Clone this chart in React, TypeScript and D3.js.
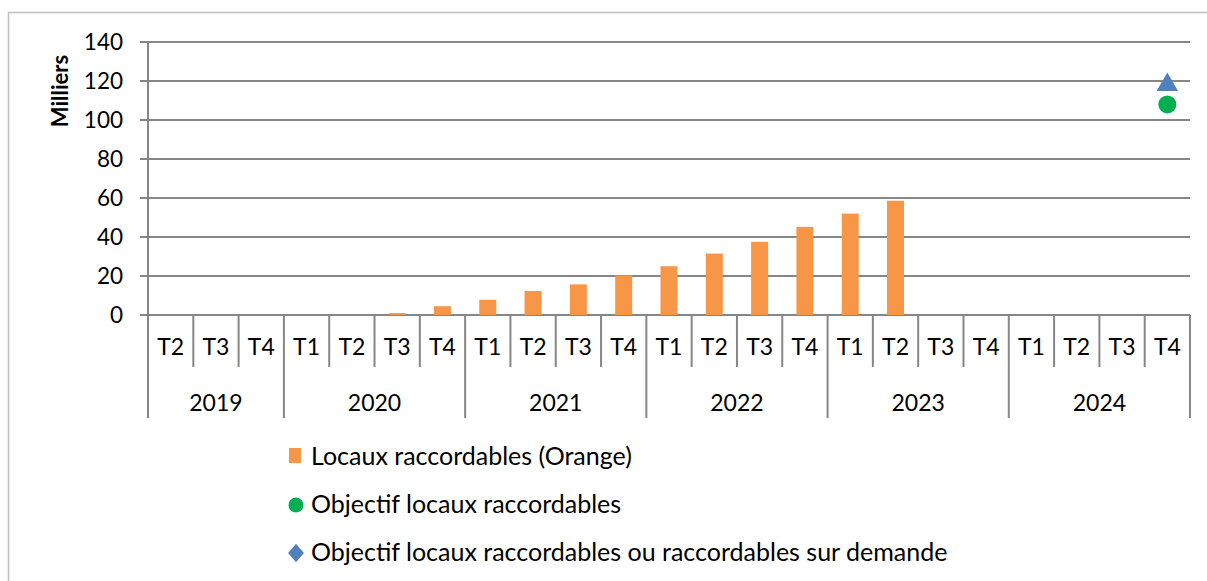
import React from "react";
import * as d3 from "d3";

const years = ["2019", "2020", "2021", "2022", "2023", "2024"];
const quartersPerYear = [
  ["T2", "T3", "T4"],
  ["T1", "T2", "T3", "T4"],
  ["T1", "T2", "T3", "T4"],
  ["T1", "T2", "T3", "T4"],
  ["T1", "T2", "T3", "T4"],
  ["T1", "T2", "T3", "T4"],
];
// Locaux raccordables (Orange), milliers; null = no bar
const raccordables: (number | null)[] = [
  null, null, null,
  null, null, 1, 4.5,
  7.8, 12.3, 15.7, 20.3,
  25, 31.5, 37.5, 45.2,
  52, 58.6, null, null,
  null, null, null, null,
];
const objectifRacc: (number | null)[] = [
  null, null, null, null, null, null, null, null, null, null, null, null,
  null, null, null, null, null, null, null, null, null, null, 108,
];
const objectifRaccDemande: (number | null)[] = [
  null, null, null, null, null, null, null, null, null, null, null, null,
  null, null, null, null, null, null, null, null, null, null, 118,
];
const yTicks = [0, 20, 40, 60, 80, 100, 120, 140];
const legendLabels = [
  "Locaux raccordables (Orange)",
  "Objectif locaux raccordables",
  "Objectif locaux raccordables ou raccordables sur demande",
];

const ORANGE = "#F79646";
const GREEN = "#00B050";
const BLUE = "#4F81BD";
const GRID = "#868686";
const FONT = "Lato, 'Open Sans', sans-serif";

export default function App() {
  const W = 1207, H = 581;
  const left = 148, right = 1190, top = 42, bottom = 315;
  const cats: { key: string; q: string; yi: number }[] = [];
  quartersPerYear.forEach((qs, yi) =>
    qs.forEach((q) => cats.push({ key: years[yi] + q, q, yi }))
  );
  const x = d3.scaleBand().domain(cats.map((c) => c.key)).range([left, right]).paddingInner(0).paddingOuter(0);
  const y = d3.scaleLinear().domain([0, 140]).range([bottom, top]);
  const bw = x.bandwidth();
  const barW = 17;

  const yearBounds: number[] = [];
  let idx = 0;
  quartersPerYear.forEach((qs) => {
    yearBounds.push(idx);
    idx += qs.length;
  });
  yearBounds.push(idx);

  const qLineBottom = 367;
  const yLineBottom = 418;
  const diamondType = (d3 as any).symbolDiamond2 || d3.symbolDiamond;

  return (
    <svg width={W} height={H} style={{ position: "absolute", left: 0, top: 0, background: "#fff" }} fontFamily={FONT}>
      <rect x={0} y={0} width={W} height={H} fill="#fff" />
      <path d={`M8.5,${H} V12.5 H${W}`} fill="none" stroke="#BFBFBF" strokeWidth={1.5} />
      {yTicks.map((t) => (
        <line key={t} x1={left - 8} x2={right} y1={y(t)} y2={y(t)} stroke={GRID} strokeWidth={2} />
      ))}
      <line x1={left} x2={left} y1={top} y2={yLineBottom} stroke={GRID} strokeWidth={2} />
      {yTicks.map((t) => (
        <text key={t} x={left - 25} y={y(t)} dy="0.36em" textAnchor="end" fontSize={22.5} fill="#000">
          {t}
        </text>
      ))}
      <text transform={`translate(68,91) rotate(-90)`} textAnchor="middle" fontSize={22} fontWeight="bold" fill="#000">
        Milliers
      </text>
      {cats.map((c, i) => {
        const isYear = yearBounds.includes(i);
        return (
          <line key={c.key} x1={x(c.key)!} x2={x(c.key)!} y1={bottom} y2={isYear ? yLineBottom : qLineBottom} stroke={GRID} strokeWidth={2} />
        );
      })}
      <line x1={right} x2={right} y1={bottom} y2={yLineBottom} stroke={GRID} strokeWidth={2} />
      {cats.map((c) => (
        <text key={c.key + "l"} x={x(c.key)! + bw / 2} y={355} textAnchor="middle" fontSize={23} fill="#000">
          {c.q}
        </text>
      ))}
      {years.map((yr, i) => {
        const x0 = x(cats[yearBounds[i]].key)!;
        const x1 = yearBounds[i + 1] < cats.length ? x(cats[yearBounds[i + 1]].key)! : right;
        return (
          <text key={yr} x={(x0 + x1) / 2} y={411} textAnchor="middle" fontSize={23} fill="#000">
            {yr}
          </text>
        );
      })}
      {cats.map((c, i) => {
        const v = raccordables[i];
        if (v == null) return null;
        return (
          <rect key={c.key + "b"} x={x(c.key)! + bw / 2 - barW / 2} y={y(v)} width={barW} height={y(0) - y(v)} fill={ORANGE} />
        );
      })}
      {cats.map((c, i) => {
        const v = objectifRaccDemande[i];
        if (v == null) return null;
        const cx = x(c.key)! + bw / 2, cy = y(v);
        const sym = d3.symbol().type(d3.symbolTriangle).size(200)();
        return <path key={c.key + "t"} d={sym!} transform={`translate(${cx},${cy})`} fill={BLUE} />;
      })}
      {cats.map((c, i) => {
        const v = objectifRacc[i];
        if (v == null) return null;
        return <circle key={c.key + "c"} cx={x(c.key)! + bw / 2} cy={y(v)} r={9} fill={GREEN} />;
      })}
      <rect x={289} y={448} width={12} height={15} fill={ORANGE} />
      <text x={311} y={465} fontSize={25} fill="#000">{legendLabels[0]}</text>
      <circle cx={296} cy={505} r={7.5} fill={GREEN} />
      <text x={311} y={513} fontSize={25} fill="#000">{legendLabels[1]}</text>
      <path d={d3.symbol().type(diamondType).size(220)()!} transform="translate(296,553) scale(0.85,1)" fill={BLUE} />
      <text x={311} y={561} fontSize={25} fill="#000">{legendLabels[2]}</text>
    </svg>
  );
}
